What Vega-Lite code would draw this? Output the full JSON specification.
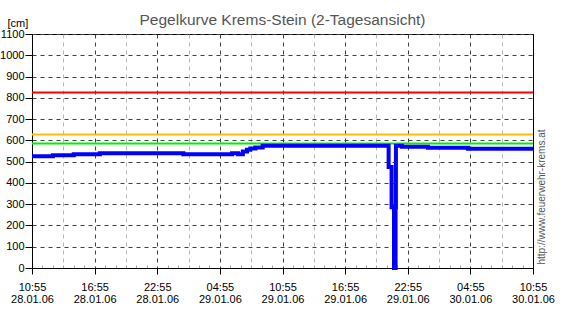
{
  "$schema": "https://vega.github.io/schema/vega-lite/v6.json",
  "width": 501,
  "height": 234,
  "autosize": {"type": "none"},
  "padding": {"left": 32, "top": 34, "right": 38, "bottom": 53},
  "background": "#ffffff",
  "title": {
    "text": "Pegelkurve Krems-Stein (2-Tagesansicht)",
    "font": "Liberation Sans",
    "fontSize": 15.5,
    "fontWeight": "normal",
    "color": "#555555",
    "anchor": "middle",
    "offset": -11
  },
  "config": {
    "view": {"stroke": "#000000", "strokeWidth": 1, "fill": "#ffffff"},
    "axis": {"labelFont": "Liberation Sans", "labelFontSize": 11, "labelColor": "#000000", "titleFont": "Liberation Sans", "titleFontWeight": "normal"}
  },
  "datasets": {
    "levels": [
      {"name": "Alarmstufe 3", "cm": 825},
      {"name": "Alarmstufe 2", "cm": 627},
      {"name": "Alarmstufe 1", "cm": 585}
    ],
    "pegel": [
      {"t": "2006-01-28T10:55:00Z", "cm": 525},
      {"t": "2006-01-28T12:55:00Z", "cm": 530},
      {"t": "2006-01-28T14:55:00Z", "cm": 535},
      {"t": "2006-01-28T17:25:00Z", "cm": 540},
      {"t": "2006-01-29T01:25:00Z", "cm": 535},
      {"t": "2006-01-29T06:05:00Z", "cm": 540},
      {"t": "2006-01-29T06:40:00Z", "cm": 535},
      {"t": "2006-01-29T07:07:00Z", "cm": 548},
      {"t": "2006-01-29T07:31:00Z", "cm": 556},
      {"t": "2006-01-29T07:50:00Z", "cm": 562},
      {"t": "2006-01-29T08:19:00Z", "cm": 567},
      {"t": "2006-01-29T09:01:00Z", "cm": 575},
      {"t": "2006-01-29T21:05:00Z", "cm": 475},
      {"t": "2006-01-29T21:22:00Z", "cm": 285},
      {"t": "2006-01-29T21:36:00Z", "cm": 0},
      {"t": "2006-01-29T21:45:00Z", "cm": 285},
      {"t": "2006-01-29T21:47:00Z", "cm": 575},
      {"t": "2006-01-29T22:21:00Z", "cm": 570},
      {"t": "2006-01-30T00:51:00Z", "cm": 565},
      {"t": "2006-01-30T04:41:00Z", "cm": 560},
      {"t": "2006-01-30T10:55:00Z", "cm": 560}
    ]
  },
  "layer": [
    {
      "data": {"name": "levels"},
      "mark": {"type": "rule", "strokeWidth": 2},
      "encoding": {
        "y": {
          "field": "cm",
          "type": "quantitative",
          "scale": {"domain": [0, 1100], "nice": false, "zero": true},
          "axis": {
            "orient": "right",
            "title": "http://www.feuerwehr-krems.at",
            "titleFont": "Liberation Sans",
            "titleFontSize": 10,
            "titleColor": "#555555",
            "titleAngle": 270,
            "titleAlign": "left",
            "titleBaseline": "middle",
            "titleX": 8,
            "titleY": 230,
            "labels": false,
            "ticks": false,
            "grid": false,
            "domain": true,
            "domainColor": "#000000"
          }
        },
        "color": {
          "field": "name",
          "type": "nominal",
          "scale": {"domain": ["Alarmstufe 3", "Alarmstufe 2", "Alarmstufe 1"], "range": ["#ff0000", "#ffc000", "#00f000"]},
          "legend": null
        }
      }
    },
    {
      "data": {"name": "pegel"},
      "mark": {"type": "line", "interpolate": "step-after", "color": "#0000ff", "strokeWidth": 4, "strokeCap": "butt", "strokeJoin": "miter"},
      "encoding": {
        "x": {
          "field": "t",
          "type": "temporal",
          "scale": {"type": "utc", "domain": [1138445700000, 1138618500000], "nice": false},
          "axis": {
            "title": null,
            "values": [1138445700000,1138449300000,1138452900000,1138456500000,1138460100000,1138463700000,1138467300000,1138470900000,1138474500000,1138478100000,1138481700000,1138485300000,1138488900000,1138492500000,1138496100000,1138499700000,1138503300000,1138506900000,1138510500000,1138514100000,1138517700000,1138521300000,1138524900000,1138528500000,1138532100000,1138535700000,1138539300000,1138542900000,1138546500000,1138550100000,1138553700000,1138557300000,1138560900000,1138564500000,1138568100000,1138571700000,1138575300000,1138578900000,1138582500000,1138586100000,1138589700000,1138593300000,1138596900000,1138600500000,1138604100000,1138607700000,1138611300000,1138614900000,1138618500000],
            "labelExpr": "(datum.value - 1138445700000) % 21600000 == 0 ? [utcFormat(datum.value, '%H:%M'), utcFormat(datum.value, '%d.%m.%y')] : ''",
            "labelBaseline": "top",
            "labelLineHeight": 12,
            "labelPadding": 7,
            "labelFlush": false,
            "labelOverlap": false,
            "labelAlign": "center",
            "domain": true,
            "domainColor": "#000000",
            "tickSize": {"condition": {"test": "(datum.value - 1138445700000) % 21600000 == 0", "value": 6}, "value": -3},
            "tickColor": {"condition": {"test": "(datum.value - 1138445700000) % 21600000 == 0", "value": "#000000"}, "value": "#a0a0a0"},
            "grid": true,
            "gridDash": [4, 4],
            "gridColor": {"condition": {"test": "(datum.value - 1138445700000) % 21600000 == 0", "value": "#404040"}, "value": "#b8b8b8"},
            "gridOpacity": {"condition": {"test": "(datum.value - 1138445700000) % 10800000 == 0", "value": 1}, "value": 0}
          }
        },
        "y": {
          "field": "cm",
          "type": "quantitative",
          "scale": {"domain": [0, 1100], "nice": false},
          "axis": {
            "orient": "left",
            "values": [0, 100, 200, 300, 400, 500, 600, 700, 800, 900, 1000, 1100],
            "format": "d",
            "title": "[cm]",
            "titleFont": "Liberation Sans",
            "titleFontSize": 11,
            "titleColor": "#000000",
            "titleAngle": 0,
            "titleAlign": "left",
            "titleBaseline": "alphabetic",
            "titleX": -25,
            "titleY": -8,
            "labelPadding": 1,
            "tickSize": 7,
            "tickColor": "#000000",
            "domain": true,
            "domainColor": "#000000",
            "grid": true,
            "gridDash": [4, 4],
            "gridColor": "#404040"
          }
        }
      }
    }
  ],
  "resolve": {"axis": {"y": "independent"}}
}
